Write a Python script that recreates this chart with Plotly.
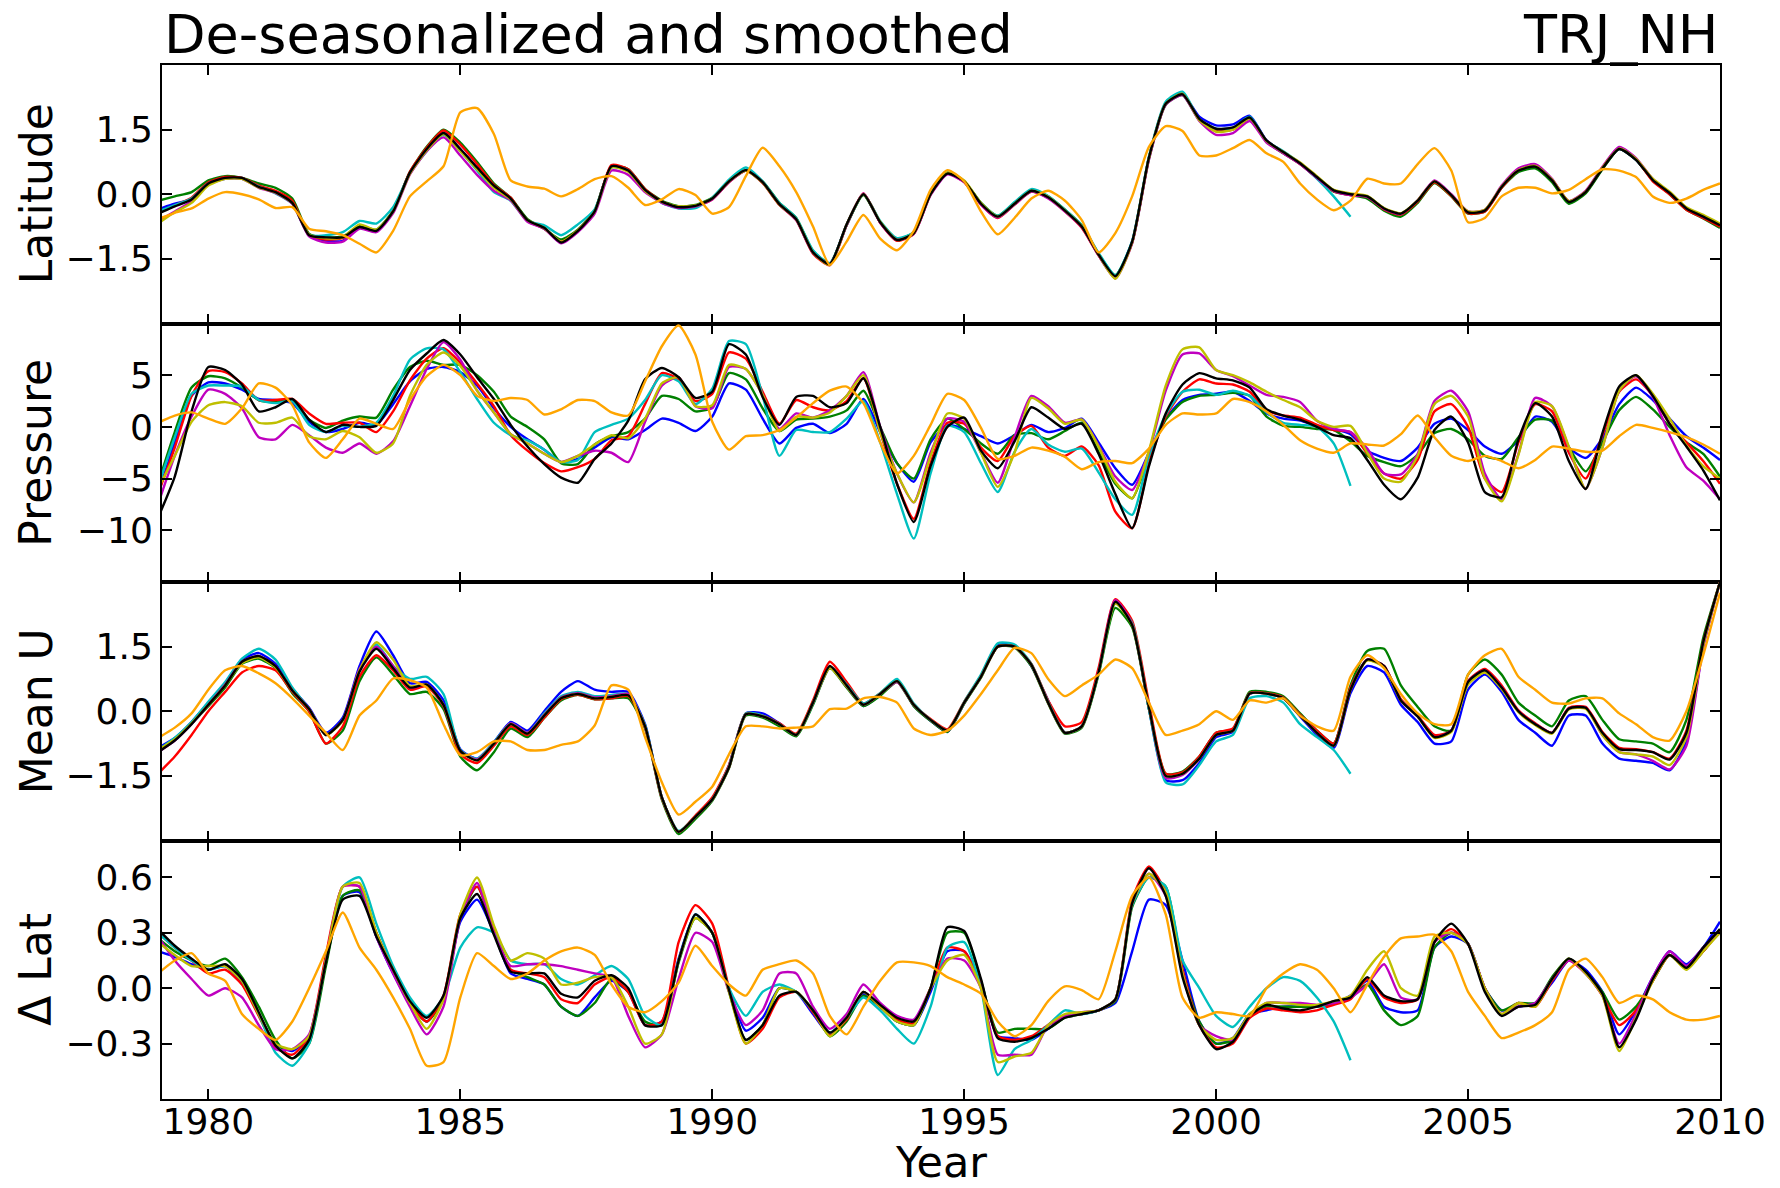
import plotly.graph_objects as go
from plotly.subplots import make_subplots

# Time axis: one sample every four months, Jan 1979 .. Jan 2010
YEARS = [round(1979 + k / 3, 4) for k in range(94)]
YEARS_CYAN = YEARS[:72]  # cyan record stops in late 2002

# ---------------- Latitude ----------------
LAT_BLUE = [
    -0.35, -0.22, -0.12, 0.25, 0.38, 0.38, 0.17, 0.05, -0.20, -0.95,
    -1.08, -1.08, -0.76, -0.85, -0.40, 0.50, 1.05, 1.42, 1.05, 0.62,
    0.20, -0.10, -0.60, -0.78, -1.12, -0.85, -0.40, 0.65, 0.55, 0.10,
    -0.17, -0.30, -0.27, -0.10, 0.30, 0.56, 0.28, -0.23, -0.58, -1.35,
    -1.62, -0.70, 0.00, -0.65, -1.06, -0.90, 0.00, 0.48, 0.30, -0.22,
    -0.52, -0.22, 0.08, -0.07, -0.38, -0.75, -1.40, -1.90, -1.10, 0.85,
    2.10, 2.32, 1.80, 1.60, 1.62, 1.82, 1.25, 0.98, 0.72, 0.40,
    0.09, 0.00, -0.05, -0.33, -0.45, -0.15, 0.30, -0.02, -0.42, -0.38,
    0.17, 0.55, 0.64, 0.32, -0.18, 0.05, 0.60, 1.05, 0.80, 0.33,
    0.03, -0.33, -0.52, -0.72]
LAT_GREEN = [
    -0.15, -0.05, 0.05, 0.32, 0.42, 0.38, 0.25, 0.15, -0.10, -0.92,
    -1.00, -0.98, -0.74, -0.82, -0.38, 0.52, 1.10, 1.50, 1.20, 0.75,
    0.25, -0.08, -0.58, -0.80, -1.05, -0.82, -0.38, 0.65, 0.58, 0.12,
    -0.15, -0.28, -0.25, -0.08, 0.30, 0.55, 0.30, -0.20, -0.55, -1.32,
    -1.60, -0.72, -0.02, -0.65, -1.04, -0.88, 0.02, 0.50, 0.30, -0.20,
    -0.50, -0.20, 0.10, -0.05, -0.36, -0.72, -1.38, -1.88, -1.12, 0.82,
    2.08, 2.30, 1.72, 1.50, 1.52, 1.75, 1.22, 0.95, 0.70, 0.38,
    0.06, -0.02, -0.10, -0.38, -0.52, -0.20, 0.26, -0.05, -0.45, -0.40,
    0.15, 0.52, 0.60, 0.28, -0.22, 0.02, 0.58, 1.05, 0.80, 0.32,
    0.00, -0.36, -0.56, -0.78]
LAT_RED = [
    -0.42, -0.26, -0.08, 0.28, 0.40, 0.38, 0.20, 0.08, -0.15, -0.95,
    -1.05, -1.02, -0.78, -0.86, -0.40, 0.52, 1.08, 1.48, 1.15, 0.70,
    0.22, -0.08, -0.62, -0.80, -1.10, -0.84, -0.40, 0.68, 0.58, 0.12,
    -0.17, -0.30, -0.28, -0.12, 0.28, 0.55, 0.26, -0.25, -0.60, -1.38,
    -1.65, -0.72, 0.02, -0.66, -1.08, -0.92, 0.00, 0.48, 0.28, -0.24,
    -0.55, -0.24, 0.06, -0.08, -0.40, -0.78, -1.42, -1.92, -1.12, 0.85,
    2.12, 2.34, 1.74, 1.48, 1.50, 1.76, 1.24, 0.96, 0.70, 0.38,
    0.07, -0.02, -0.06, -0.35, -0.47, -0.17, 0.28, -0.04, -0.44, -0.40,
    0.15, 0.56, 0.66, 0.34, -0.16, 0.06, 0.62, 1.08, 0.82, 0.30,
    0.00, -0.36, -0.55, -0.75]
LAT_CYAN = [
    -0.40, -0.25, -0.10, 0.25, 0.36, 0.36, 0.18, 0.02, -0.22, -0.95,
    -0.95, -0.88, -0.62, -0.68, -0.30, 0.48, 1.00, 1.38, 1.00, 0.55,
    0.05, -0.15, -0.62, -0.72, -0.95, -0.70, -0.35, 0.62, 0.55, 0.08,
    -0.20, -0.33, -0.32, -0.08, 0.34, 0.62, 0.30, -0.20, -0.55, -1.30,
    -1.60, -0.72, 0.00, -0.62, -1.02, -0.88, 0.02, 0.50, 0.30, -0.20,
    -0.50, -0.18, 0.12, -0.04, -0.36, -0.72, -1.36, -1.88, -1.08, 0.88,
    2.15, 2.38, 1.74, 1.52, 1.54, 1.80, 1.24, 1.00, 0.72, 0.36,
    -0.05, -0.52]
LAT_MAGENTA = [
    -0.62, -0.40, -0.16, 0.22, 0.36, 0.36, 0.15, 0.03, -0.22, -0.98,
    -1.12, -1.10, -0.80, -0.88, -0.44, 0.46, 1.00, 1.32, 0.90, 0.45,
    0.08, -0.14, -0.64, -0.80, -1.14, -0.88, -0.45, 0.55, 0.45, 0.05,
    -0.20, -0.32, -0.28, -0.12, 0.28, 0.55, 0.27, -0.24, -0.60, -1.36,
    -1.62, -0.72, 0.02, -0.66, -1.06, -0.92, -0.02, 0.46, 0.28, -0.24,
    -0.54, -0.24, 0.06, -0.10, -0.40, -0.76, -1.42, -1.95, -1.14, 0.80,
    2.08, 2.30, 1.70, 1.38, 1.42, 1.70, 1.20, 0.95, 0.70, 0.38,
    0.08, -0.02, -0.06, -0.34, -0.46, -0.14, 0.32, 0.00, -0.40, -0.36,
    0.20, 0.60, 0.70, 0.36, -0.16, 0.08, 0.64, 1.10, 0.84, 0.35,
    0.04, -0.32, -0.52, -0.70]
LAT_YELLOW = [
    -0.68, -0.42, -0.20, 0.20, 0.36, 0.36, 0.16, 0.04, -0.20, -0.94,
    -1.02, -1.00, -0.70, -0.82, -0.40, 0.48, 1.02, 1.40, 1.00, 0.58,
    0.15, -0.12, -0.60, -0.78, -1.10, -0.84, -0.40, 0.62, 0.52, 0.08,
    -0.18, -0.28, -0.26, -0.10, 0.30, 0.55, 0.27, -0.24, -0.58, -1.35,
    -1.64, -0.70, 0.00, -0.64, -1.06, -0.90, 0.00, 0.50, 0.32, -0.20,
    -0.52, -0.22, 0.08, -0.06, -0.38, -0.74, -1.40, -1.96, -1.12, 0.84,
    2.10, 2.33, 1.72, 1.45, 1.50, 1.76, 1.24, 0.98, 0.74, 0.42,
    0.10, 0.02, -0.04, -0.32, -0.44, -0.14, 0.30, -0.02, -0.40, -0.36,
    0.18, 0.56, 0.66, 0.34, -0.16, 0.06, 0.62, 1.06, 0.82, 0.36,
    0.06, -0.30, -0.48, -0.68]
LAT_BLACK = [
    -0.45, -0.28, -0.12, 0.25, 0.38, 0.38, 0.17, 0.05, -0.20, -0.95,
    -1.00, -1.00, -0.76, -0.85, -0.40, 0.50, 1.05, 1.42, 1.05, 0.62,
    0.20, -0.10, -0.60, -0.78, -1.12, -0.85, -0.40, 0.65, 0.55, 0.10,
    -0.17, -0.30, -0.27, -0.10, 0.30, 0.56, 0.28, -0.23, -0.58, -1.35,
    -1.62, -0.70, 0.00, -0.65, -1.06, -0.90, 0.00, 0.48, 0.30, -0.22,
    -0.52, -0.22, 0.08, -0.07, -0.38, -0.75, -1.40, -1.90, -1.10, 0.85,
    2.10, 2.32, 1.75, 1.52, 1.55, 1.78, 1.25, 0.98, 0.72, 0.40,
    0.09, 0.00, -0.05, -0.33, -0.45, -0.15, 0.30, -0.02, -0.42, -0.38,
    0.17, 0.55, 0.64, 0.32, -0.18, 0.05, 0.60, 1.05, 0.80, 0.33,
    0.03, -0.33, -0.52, -0.72]
LAT_ORANGE = [
    -0.58, -0.43, -0.33, -0.10, 0.05, 0.00, -0.12, -0.32, -0.30, -0.80,
    -0.86, -0.95, -1.15, -1.35, -0.85, -0.05, 0.30, 0.65, 1.90, 2.00,
    1.40, 0.32, 0.18, 0.13, -0.05, 0.12, 0.35, 0.42, 0.15, -0.25,
    -0.12, 0.12, -0.02, -0.45, -0.30, 0.42, 1.08, 0.65, 0.05, -0.75,
    -1.64, -1.10, -0.48, -1.03, -1.30, -0.85, 0.10, 0.56, 0.30, -0.40,
    -0.93, -0.55, -0.10, 0.08, -0.15, -0.60, -1.35, -0.90, -0.05, 1.10,
    1.58, 1.47, 0.90, 0.90, 1.07, 1.26, 0.95, 0.75, 0.25, -0.12,
    -0.37, -0.15, 0.36, 0.25, 0.25, 0.70, 1.07, 0.55, -0.65, -0.55,
    -0.05, 0.15, 0.15, 0.02, 0.10, 0.35, 0.58, 0.55, 0.40, -0.05,
    -0.20, -0.10, 0.10, 0.25]

# ---------------- Pressure ----------------
PRES_BLUE = [
    -6.5, -1.5, 3.0, 4.3, 4.2, 3.6, 2.7, 2.6, 2.3, 0.5,
    -0.5, -0.2, 0.4, 0.2, 2.2, 4.4, 5.6, 5.8, 5.3, 4.0,
    1.8, 0.0, -1.2, -2.2, -3.4, -3.1, -2.0, -1.0, -1.2, -0.3,
    0.8, 0.4, -0.4, 1.0, 4.2, 3.6, 0.8, -1.6, -0.1, 0.3,
    -0.6, 0.3, 2.7, -0.5, -3.5, -5.3, -1.5, 0.2, -0.2, -0.9,
    -1.6, -0.8, 0.2, -0.5, -0.1, 0.8, -1.5, -4.0, -5.6, -2.5,
    0.8, 2.6, 3.1, 3.2, 3.4, 2.5, 1.3, 0.8, 0.6, 0.1,
    -0.2, -0.7, -2.3, -3.0, -3.3, -2.0, 0.3, 0.8, -0.3, -1.9,
    -2.6, -1.3, 1.0, 0.5, -2.0, -3.0, -1.1, 2.2, 3.8, 2.6,
    0.8, -0.9, -2.0, -3.2]
PRES_GREEN = [
    -5.5, -0.5, 3.8, 4.9, 4.7, 3.8, 2.6, 2.4, 2.6, 0.7,
    -0.1, 0.6, 1.0, 0.9, 3.6, 5.8, 6.4, 6.0, 6.0, 5.0,
    3.4, 1.0, 0.0, -1.2, -3.5, -3.6, -1.7, -0.9, -0.5, 0.8,
    3.0, 2.7, 1.5, 1.9, 5.2, 4.6, 1.8, -0.4, 0.7, 0.8,
    1.0, 1.6, 3.5, 0.0, -3.5, -5.0, -1.2, 0.8, -0.2, -1.6,
    -2.6, -0.8, -0.6, -1.2, -0.4, 0.4, -2.4, -5.5, -6.9, -2.8,
    0.7, 2.4, 3.0, 3.1, 3.3, 3.0, 1.0, 0.1, 0.0, -0.2,
    -0.3, -1.4, -2.8, -3.4, -3.8, -2.7, -0.6, -0.2, -1.2, -2.8,
    -3.1, -1.0, 0.7, 0.6, -2.0, -4.3, -1.5, 1.6, 2.9, 1.7,
    0.0, -1.5, -2.6, -4.8]
PRES_RED = [
    -6.5, -2.0, 3.0, 5.4, 5.3, 4.2, 2.6, 2.6, 2.7, 1.3,
    0.3, 0.4, 0.4, -0.5, 1.5, 4.5, 6.6, 7.6, 6.2, 4.2,
    2.0, -0.8, -2.3, -3.5, -4.3, -3.9, -3.1, -1.3, -0.9, 2.2,
    5.2, 4.6, 2.5, 3.2, 7.2, 6.6, 3.4, 0.3, 2.6, 1.9,
    1.6, 2.5, 4.7, -0.5, -5.5, -8.9, -3.5, 0.4, 0.3, -2.0,
    -3.3, -0.9, 0.1, -2.0, -2.8, -1.9, -3.7, -8.2, -9.8, -3.5,
    1.0, 3.4, 4.6, 4.2, 4.1, 3.4, 1.6, 1.1, 0.9, 0.2,
    -0.3, -0.5, -2.6, -4.5, -5.0, -3.2, 1.5, 2.2, 0.0, -5.0,
    -6.3, -1.5, 2.2, 1.5, -2.5, -5.0, -0.8, 3.4, 4.6, 3.0,
    0.3, -1.5, -3.3, -5.5]
PRES_CYAN = [
    -5.8, -1.0, 3.2, 4.0, 4.0, 3.9, 2.6, 2.3, 2.5, 0.2,
    -0.5, 0.1, 0.0, 0.4, 3.0, 6.5, 7.6, 7.5, 5.3, 2.7,
    0.4, -0.8, -1.3, -2.2, -3.4, -3.2, -0.5, 0.2, 0.8, 2.6,
    5.0, 4.4, 2.2, 3.7, 8.3, 8.0, 3.0, -2.8, -0.3, -0.5,
    -0.5, 0.8, 2.5, -1.5, -6.5, -10.8, -4.5, 0.1, -0.5, -3.5,
    -6.3, -2.4, -0.2, -1.7, -2.4, -2.1, -4.4, -7.0, -8.5, -2.8,
    1.2, 3.4, 3.6, 3.1, 3.5, 3.0, 1.4, 0.4, 0.2, 0.0,
    -1.6, -5.7]
PRES_MAGENTA = [
    -7.5, -2.8, 1.0, 3.6, 3.2, 1.8, -1.0, -1.2, 0.2, -0.8,
    -2.0, -2.5, -1.6, -2.6, -1.4, 2.0, 5.6, 8.2, 6.5, 3.5,
    1.4, -0.7, -1.6, -2.6, -3.4, -2.8, -2.3, -2.5, -3.4, 0.5,
    4.0, 4.8, 2.0, 1.8, 5.8, 5.6, 3.1, -0.2, 1.3, 0.9,
    1.6, 3.0, 5.3, 0.0, -4.5, -7.3, -2.5, 0.8, 0.5, -2.5,
    -5.4, -1.0, 3.0, 2.0, 0.4, 0.7, -1.8, -4.8, -6.1, -2.4,
    3.5, 7.0, 7.1, 5.5, 4.9, 4.0, 3.1, 2.9, 2.4, 0.6,
    -0.2, -0.5, -2.1, -4.5, -4.6, -2.6, 2.5, 3.5, 1.5, -4.5,
    -7.0, -2.6, 2.8, 2.0, -2.0, -6.0, -2.0, 3.5, 4.9, 2.9,
    -0.8, -3.9, -5.2, -7.0]
PRES_YELLOW = [
    -6.0, -2.8, 0.5, 2.1, 2.4, 2.0, 0.4, 0.4, 0.9, -0.9,
    -1.2, -0.4, -1.0, -2.5, -1.6, 3.0, 6.0, 7.2, 5.9, 3.5,
    1.4, -0.7, -1.6, -2.6, -3.4, -2.8, -1.7, -0.8, -1.1, 0.8,
    4.2, 4.8, 2.0, 2.1, 6.0, 5.6, 3.1, -0.4, 1.0, 0.9,
    1.4, 3.0, 5.0, -0.5, -4.5, -7.3, -2.8, 1.3, 0.8, -2.5,
    -5.8, -2.5, 2.8, 1.8, 0.3, 0.7, -1.9, -5.3, -6.9, -2.3,
    4.0, 7.5, 7.7, 5.5, 5.0, 4.3, 3.4, 2.6, 1.9, 0.6,
    0.0, 0.1, -2.5, -5.0, -5.3, -2.8, 2.2, 3.0, 1.0, -5.0,
    -7.2, -2.7, 2.4, 2.0, -1.9, -6.0, -2.0, 3.5, 5.0, 3.2,
    0.8, -1.8, -3.8, -5.0]
PRES_BLACK = [
    -8.8, -4.8, 1.5, 5.8, 5.5, 4.1, 1.5, 1.9, 2.7, 0.7,
    -0.5, 0.2, 0.0, 0.1, 2.6, 5.5, 7.1, 8.4, 7.0, 4.8,
    2.7, 0.2, -1.9, -3.6, -4.9, -5.4, -3.1, -1.6, 0.6, 4.6,
    5.7, 4.8, 2.8, 3.4, 8.0, 7.0, 2.9, 0.2, 2.9, 3.0,
    1.9, 2.3, 4.7, 0.0, -5.5, -9.2, -3.8, 0.0, 0.9, -2.3,
    -4.0, -1.4, 1.9, 0.9, -0.2, 0.3, -2.6, -6.5, -9.8, -3.8,
    1.3, 4.1, 5.2, 4.7, 4.5, 3.8, 1.7, 1.1, 0.7, 0.0,
    -0.8, -1.1, -3.2, -5.6, -7.0, -4.9, -0.3, 1.0, -1.5, -6.3,
    -6.8, -1.2, 2.3, 1.0, -3.3, -6.0, -0.6, 3.9, 5.0, 3.0,
    0.3, -1.9, -4.2, -7.1]
PRES_ORANGE = [
    0.4, 1.1, 1.4, 0.8, 0.3, 1.8, 4.2, 3.8, 2.1, -1.5,
    -3.0, -1.2, 0.8, 0.3, -0.2, 2.6, 4.9, 6.0, 5.0, 3.0,
    2.5, 2.8, 2.6, 1.2, 1.7, 2.6, 2.5, 1.4, 1.1, 4.4,
    7.8, 9.8, 7.0, 0.5, -2.2, -0.9, -0.8, -0.3, 0.9, 2.3,
    3.5, 3.9, 2.3, -1.5, -4.5, -2.8, 0.2, 3.2, 2.6, -0.1,
    -3.1, -2.8, -2.0, -2.3, -2.9, -4.1, -3.4, -3.3, -3.5, -2.1,
    0.2, 1.3, 1.2, 1.3, 2.7, 2.4, 1.5, 0.2, -1.3, -2.1,
    -2.5, -1.6, -1.7, -1.8, -0.7, 1.1, -1.0, -2.8, -3.3, -2.8,
    -3.3, -4.0, -3.2, -1.9, -2.1, -2.4, -2.3, -0.9, 0.2, -0.1,
    -0.5, -1.0, -1.7, -2.6]

# ---------------- Mean U ----------------
MEANU_BLUE = [
    -0.85, -0.62, -0.25, 0.20, 0.65, 1.20, 1.35, 1.10, 0.52, 0.08,
    -0.50, -0.15, 1.05, 1.85, 1.30, 0.65, 0.68, 0.25, -0.88, -1.10,
    -0.72, -0.25, -0.45, 0.00, 0.45, 0.70, 0.50, 0.45, 0.45, -0.30,
    -2.00, -2.82, -2.48, -2.05, -1.25, -0.05, -0.05, -0.28, -0.55, 0.18,
    1.00, 0.60, 0.12, 0.38, 0.72, 0.12, -0.22, -0.48, 0.18, 0.82,
    1.55, 1.52, 1.05, 0.25, -0.50, -0.35, 0.90, 2.55, 2.02, 0.05,
    -1.60, -1.60, -1.20, -0.60, -0.48, 0.40, 0.42, 0.30, -0.12, -0.55,
    -0.85, 0.42, 1.05, 0.90, 0.15, -0.25, -0.75, -0.70, 0.50, 0.85,
    0.45, -0.20, -0.50, -0.80, -0.10, -0.10, -0.75, -1.10, -1.15, -1.20,
    -1.37, -0.70, 1.50, 3.00]
MEANU_GREEN = [
    -0.90, -0.65, -0.28, 0.12, 0.55, 1.10, 1.22, 1.00, 0.42, 0.00,
    -0.75, -0.45, 0.70, 1.25, 0.85, 0.40, 0.45, 0.05, -1.05, -1.37,
    -0.95, -0.40, -0.60, -0.15, 0.25, 0.38, 0.28, 0.30, 0.30, -0.40,
    -2.05, -2.85, -2.50, -2.08, -1.32, -0.10, -0.15, -0.35, -0.58, 0.15,
    1.00, 0.55, 0.12, 0.36, 0.68, 0.12, -0.22, -0.48, 0.18, 0.78,
    1.50, 1.48, 1.05, 0.18, -0.52, -0.38, 0.85, 2.40, 1.95, 0.05,
    -1.45, -1.40, -1.05, -0.50, -0.42, 0.45, 0.45, 0.35, -0.05, -0.45,
    -0.75, 0.60, 1.40, 1.45, 0.60, 0.10, -0.35, -0.45, 0.85, 1.20,
    0.85, 0.20, -0.10, -0.35, 0.25, 0.35, -0.20, -0.65, -0.70, -0.75,
    -0.95, -0.20, 1.70, 3.00]
MEANU_RED = [
    -1.45, -1.05, -0.55, 0.00, 0.45, 0.90, 1.05, 0.95, 0.45, 0.00,
    -0.75, -0.35, 0.80, 1.30, 0.95, 0.50, 0.58, 0.12, -1.00, -1.20,
    -0.80, -0.35, -0.55, -0.15, 0.28, 0.38, 0.28, 0.30, 0.35, -0.38,
    -2.02, -2.80, -2.42, -2.00, -1.25, -0.05, -0.10, -0.28, -0.52, 0.25,
    1.15, 0.68, 0.18, 0.42, 0.70, 0.15, -0.18, -0.42, 0.22, 0.82,
    1.50, 1.50, 1.10, 0.25, -0.35, -0.25, 1.00, 2.60, 2.10, 0.20,
    -1.45, -1.42, -1.05, -0.50, -0.40, 0.42, 0.42, 0.32, -0.08, -0.45,
    -0.75, 0.55, 1.20, 1.05, 0.28, -0.10, -0.55, -0.45, 0.70, 0.98,
    0.60, 0.02, -0.28, -0.50, 0.08, 0.10, -0.48, -0.85, -0.88, -0.95,
    -1.10, -0.45, 1.60, 3.00]
MEANU_CYAN = [
    -0.90, -0.62, -0.25, 0.22, 0.68, 1.22, 1.45, 1.20, 0.55, 0.05,
    -0.55, -0.20, 0.95, 1.55, 1.05, 0.75, 0.80, 0.40, -0.90, -1.10,
    -0.72, -0.28, -0.50, -0.05, 0.35, 0.45, 0.35, 0.38, 0.40, -0.32,
    -2.00, -2.78, -2.45, -2.05, -1.28, -0.05, -0.10, -0.30, -0.55, 0.18,
    1.02, 0.62, 0.18, 0.42, 0.75, 0.18, -0.20, -0.45, 0.22, 0.85,
    1.58, 1.55, 1.10, 0.22, -0.50, -0.35, 0.88, 2.50, 2.05, 0.05,
    -1.65, -1.70, -1.25, -0.70, -0.55, 0.30, 0.35, 0.20, -0.30, -0.60,
    -0.90, -1.45]
MEANU_MAGENTA = [
    -0.95, -0.68, -0.30, 0.15, 0.62, 1.15, 1.28, 1.05, 0.48, 0.05,
    -0.55, -0.20, 0.98, 1.50, 1.05, 0.55, 0.62, 0.15, -0.92, -1.12,
    -0.75, -0.28, -0.50, -0.08, 0.32, 0.42, 0.32, 0.35, 0.40, -0.35,
    -2.00, -2.80, -2.45, -2.05, -1.30, -0.07, -0.12, -0.30, -0.55, 0.20,
    1.02, 0.58, 0.15, 0.40, 0.68, 0.15, -0.20, -0.45, 0.20, 0.80,
    1.50, 1.50, 1.08, 0.20, -0.50, -0.35, 0.92, 2.58, 2.02, 0.10,
    -1.55, -1.48, -1.10, -0.55, -0.45, 0.41, 0.41, 0.30, -0.10, -0.50,
    -0.80, 0.50, 1.20, 1.05, 0.25, -0.12, -0.60, -0.45, 0.68, 0.95,
    0.55, 0.00, -0.30, -0.50, 0.06, 0.08, -0.55, -0.95, -1.00, -1.15,
    -1.35, -0.80, 1.50, 3.00]
MEANU_YELLOW = [
    -0.90, -0.65, -0.28, 0.15, 0.60, 1.12, 1.25, 1.02, 0.48, 0.05,
    -0.55, -0.22, 0.95, 1.60, 1.20, 0.58, 0.62, 0.15, -0.92, -1.14,
    -0.75, -0.30, -0.52, -0.10, 0.30, 0.40, 0.30, 0.33, 0.37, -0.35,
    -2.00, -2.80, -2.45, -2.05, -1.30, -0.07, -0.12, -0.30, -0.55, 0.20,
    1.00, 0.58, 0.15, 0.40, 0.70, 0.15, -0.20, -0.45, 0.20, 0.80,
    1.50, 1.50, 1.08, 0.20, -0.50, -0.35, 0.90, 2.50, 2.00, 0.10,
    -1.50, -1.45, -1.10, -0.55, -0.45, 0.41, 0.41, 0.30, -0.10, -0.50,
    -0.80, 0.50, 1.18, 1.02, 0.25, -0.12, -0.62, -0.48, 0.62, 0.90,
    0.52, -0.02, -0.32, -0.52, 0.04, 0.06, -0.55, -0.95, -1.00, -1.05,
    -1.25, -0.60, 1.55, 3.00]
MEANU_BLACK = [
    -0.95, -0.68, -0.30, 0.15, 0.60, 1.15, 1.28, 1.05, 0.48, 0.05,
    -0.55, -0.20, 0.92, 1.45, 1.00, 0.55, 0.62, 0.15, -0.92, -1.14,
    -0.75, -0.30, -0.52, -0.10, 0.30, 0.40, 0.30, 0.33, 0.37, -0.35,
    -2.00, -2.80, -2.45, -2.05, -1.30, -0.07, -0.12, -0.30, -0.55, 0.20,
    1.05, 0.60, 0.15, 0.40, 0.70, 0.15, -0.20, -0.45, 0.20, 0.80,
    1.50, 1.50, 1.08, 0.20, -0.50, -0.35, 0.90, 2.54, 2.00, 0.10,
    -1.50, -1.45, -1.10, -0.55, -0.45, 0.41, 0.41, 0.30, -0.10, -0.50,
    -0.80, 0.50, 1.20, 1.05, 0.25, -0.12, -0.60, -0.45, 0.68, 0.95,
    0.55, 0.00, -0.30, -0.50, 0.06, 0.08, -0.50, -0.88, -0.90, -0.95,
    -1.12, -0.50, 1.60, 3.00]
MEANU_ORANGE = [
    -0.62, -0.38, -0.05, 0.50, 0.95, 1.05, 0.88, 0.65, 0.30, -0.10,
    -0.50, -0.90, -0.10, 0.25, 0.76, 0.72, 0.55, -0.30, -1.02, -0.95,
    -0.70, -0.70, -0.90, -0.90, -0.78, -0.70, -0.33, 0.60, 0.50, -0.60,
    -1.65, -2.40, -2.10, -1.75, -1.00, -0.35, -0.35, -0.40, -0.38, -0.35,
    0.05, 0.06, 0.30, 0.33, 0.20, -0.40, -0.55, -0.45, -0.10, 0.40,
    0.95, 1.47, 1.35, 0.75, 0.35, 0.60, 0.85, 1.20, 1.00, 0.20,
    -0.55, -0.45, -0.30, 0.00, -0.20, 0.25, 0.20, 0.30, -0.10, -0.35,
    -0.45, 0.80, 1.30, 1.00, 0.40, -0.05, -0.30, -0.30, 0.85, 1.30,
    1.45, 0.80, 0.50, 0.20, 0.18, 0.30, 0.30, -0.05, -0.30, -0.60,
    -0.68, 0.00, 1.30, 2.75]

# ---------------- Delta latitude ----------------
DLAT_BLUE = [
    0.20, 0.17, 0.13, 0.10, 0.12, 0.03, -0.14, -0.30, -0.34, -0.26,
    0.14, 0.50, 0.52, 0.28, 0.08, -0.08, -0.18, -0.05, 0.36, 0.48,
    0.30, 0.08, 0.05, 0.02, -0.10, -0.15, -0.05, 0.04, -0.02, -0.20,
    -0.18, 0.16, 0.40, 0.30, 0.00, -0.23, -0.16, 0.00, -0.02, -0.14,
    -0.25, -0.16, -0.03, -0.10, -0.18, -0.20, -0.02, 0.20, 0.20, 0.02,
    -0.26, -0.27, -0.28, -0.22, -0.15, -0.14, -0.12, -0.08, 0.20, 0.48,
    0.45, 0.15, -0.18, -0.30, -0.27, -0.14, -0.12, -0.10, -0.10, -0.10,
    -0.08, -0.04, 0.04, -0.10, -0.13, -0.12, 0.22, 0.28, 0.24, 0.00,
    -0.12, -0.10, -0.08, 0.03, 0.15, 0.10, -0.02, -0.25, -0.12, 0.06,
    0.20, 0.13, 0.22, 0.36]
DLAT_GREEN = [
    0.27, 0.20, 0.15, 0.12, 0.16, 0.06, -0.10, -0.28, -0.38, -0.30,
    0.12, 0.50, 0.53, 0.30, 0.10, -0.08, -0.18, -0.06, 0.38, 0.55,
    0.32, 0.10, 0.06, 0.02, -0.10, -0.15, -0.08, 0.05, -0.02, -0.18,
    -0.20, 0.14, 0.38, 0.30, -0.02, -0.28, -0.20, 0.00, -0.02, -0.12,
    -0.26, -0.18, -0.04, -0.10, -0.18, -0.20, 0.00, 0.30, 0.30, 0.04,
    -0.24, -0.22, -0.22, -0.22, -0.16, -0.14, -0.12, -0.07, 0.44, 0.60,
    0.55, 0.10, -0.18, -0.30, -0.28, -0.14, -0.10, -0.10, -0.10, -0.10,
    -0.08, -0.05, 0.02, -0.12, -0.20, -0.15, 0.22, 0.30, 0.24, 0.00,
    -0.12, -0.08, -0.08, 0.06, 0.16, 0.08, -0.02, -0.17, -0.10, 0.04,
    0.18, 0.11, 0.20, 0.32]
DLAT_RED = [
    0.30, 0.22, 0.15, 0.08, 0.10, 0.02, -0.15, -0.32, -0.36, -0.26,
    0.18, 0.55, 0.55, 0.30, 0.10, -0.08, -0.18, -0.04, 0.40, 0.55,
    0.32, 0.10, 0.08, 0.06, -0.06, -0.08, 0.02, 0.06, -0.02, -0.20,
    -0.18, 0.25, 0.45, 0.35, 0.00, -0.30, -0.22, -0.05, -0.02, -0.13,
    -0.25, -0.17, -0.02, -0.10, -0.17, -0.19, 0.00, 0.22, 0.20, 0.02,
    -0.26, -0.28, -0.26, -0.20, -0.15, -0.14, -0.12, -0.06, 0.48, 0.66,
    0.52, 0.10, -0.20, -0.32, -0.30, -0.16, -0.11, -0.12, -0.13, -0.12,
    -0.09, -0.06, 0.05, -0.05, -0.08, -0.06, 0.25, 0.32, 0.24, 0.00,
    -0.14, -0.08, -0.10, 0.04, 0.15, 0.08, -0.04, -0.20, -0.12, 0.04,
    0.18, 0.11, 0.20, 0.31]
DLAT_CYAN = [
    0.30, 0.22, 0.15, 0.10, 0.12, 0.04, -0.14, -0.35, -0.42, -0.30,
    0.15, 0.55, 0.60, 0.35, 0.12, -0.05, -0.15, -0.05, 0.22, 0.33,
    0.30, 0.15, 0.13, 0.13, 0.05, 0.02, 0.07, 0.12, 0.05, -0.15,
    -0.20, 0.15, 0.40, 0.30, 0.00, -0.15, -0.02, 0.02, -0.02, -0.12,
    -0.24, -0.16, -0.05, -0.12, -0.22, -0.30, -0.10, 0.22, 0.25, 0.00,
    -0.47, -0.33, -0.28, -0.20, -0.12, -0.14, -0.12, -0.06, 0.45, 0.60,
    0.55, 0.15, 0.00, -0.15, -0.21, -0.10, 0.00, 0.06, 0.04, -0.05,
    -0.18, -0.39]
DLAT_MAGENTA = [
    0.28, 0.15, 0.05, -0.04, 0.00, -0.05, -0.20, -0.33, -0.33, -0.25,
    0.15, 0.55, 0.55, 0.28, 0.08, -0.10, -0.25, -0.10, 0.38, 0.57,
    0.30, 0.12, 0.13, 0.13, 0.12, 0.10, 0.08, 0.06, -0.15, -0.32,
    -0.25, 0.05, 0.30, 0.25, -0.02, -0.20, -0.12, 0.08, 0.08, -0.10,
    -0.22, -0.14, 0.02, -0.08, -0.15, -0.17, 0.00, 0.16, 0.15, 0.00,
    -0.36, -0.36, -0.36, -0.20, -0.15, -0.13, -0.12, -0.06, 0.46, 0.62,
    0.50, 0.08, -0.20, -0.26, -0.28, -0.15, -0.08, -0.08, -0.08, -0.09,
    -0.08, -0.05, 0.02, 0.13, -0.05, -0.06, 0.25, 0.30, 0.24, 0.00,
    -0.14, -0.10, -0.08, 0.05, 0.15, 0.08, -0.04, -0.30, -0.14, 0.06,
    0.20, 0.12, 0.22, 0.30]
DLAT_YELLOW = [
    0.25, 0.18, 0.12, 0.12, 0.12, 0.04, -0.14, -0.30, -0.33, -0.26,
    0.15, 0.55, 0.57, 0.30, 0.10, -0.08, -0.22, -0.06, 0.40, 0.60,
    0.34, 0.15, 0.19, 0.16, 0.02, 0.03, 0.06, 0.06, -0.10, -0.30,
    -0.25, 0.15, 0.38, 0.30, -0.02, -0.30, -0.20, 0.00, -0.02, -0.12,
    -0.26, -0.16, -0.02, -0.10, -0.18, -0.20, 0.00, 0.15, 0.18, 0.00,
    -0.40, -0.37, -0.35, -0.20, -0.14, -0.13, -0.12, -0.06, 0.46, 0.62,
    0.52, 0.08, -0.20, -0.28, -0.27, -0.14, -0.08, -0.08, -0.09, -0.09,
    -0.07, -0.04, 0.10, 0.20, 0.00, -0.04, 0.28, 0.30, 0.24, 0.00,
    -0.14, -0.08, -0.10, 0.05, 0.16, 0.08, -0.04, -0.34, -0.16, 0.04,
    0.18, 0.10, 0.20, 0.30]
DLAT_BLACK = [
    0.32, 0.23, 0.16, 0.10, 0.13, 0.05, -0.13, -0.31, -0.38, -0.28,
    0.14, 0.48, 0.50, 0.28, 0.10, -0.07, -0.16, -0.04, 0.38, 0.51,
    0.29, 0.09, 0.08, 0.08, -0.03, -0.05, 0.04, 0.07, 0.00, -0.20,
    -0.20, 0.15, 0.40, 0.30, -0.01, -0.28, -0.20, -0.04, -0.02, -0.12,
    -0.24, -0.16, -0.02, -0.09, -0.16, -0.18, 0.00, 0.33, 0.31, 0.05,
    -0.27, -0.29, -0.27, -0.22, -0.16, -0.14, -0.12, -0.06, 0.46, 0.65,
    0.50, 0.06, -0.20, -0.33, -0.29, -0.15, -0.09, -0.11, -0.12, -0.10,
    -0.07, -0.05, 0.06, -0.04, -0.07, -0.06, 0.25, 0.35, 0.24, -0.02,
    -0.15, -0.10, -0.09, 0.05, 0.16, 0.09, -0.03, -0.32, -0.17, 0.05,
    0.18, 0.11, 0.22, 0.32]
DLAT_ORANGE = [
    0.08, 0.15, 0.19, 0.08, 0.04, -0.14, -0.22, -0.28, -0.18, 0.00,
    0.20, 0.41, 0.22, 0.10, -0.05, -0.22, -0.42, -0.40, -0.05, 0.19,
    0.12, 0.05, 0.08, 0.15, 0.20, 0.22, 0.18, 0.02, -0.10, -0.13,
    -0.07, 0.03, 0.23, 0.12, 0.02, -0.04, 0.10, 0.13, 0.15, 0.08,
    -0.15, -0.25, -0.10, 0.04, 0.14, 0.14, 0.12, 0.06, 0.02, -0.03,
    -0.18, -0.26, -0.20, -0.07, 0.01, -0.01, -0.06, 0.20, 0.50, 0.60,
    0.40, -0.05, -0.16, -0.13, -0.14, -0.15, 0.00, 0.08, 0.13, 0.10,
    0.00, -0.13, 0.02, 0.17, 0.27, 0.28, 0.29, 0.20, -0.02, -0.15,
    -0.27, -0.24, -0.20, -0.13, 0.10, 0.16, 0.06, -0.08, -0.04, -0.06,
    -0.13, -0.17, -0.17, -0.15]

# Line colours (classic matplotlib cycle plus orange), drawn in this order
COLORS = {
    "blue": "#0000ff", "green": "#008000", "red": "#ff0000",
    "cyan": "#00bfbf", "magenta": "#bf00bf", "yellow": "#bfbf00",
    "black": "#000000", "orange": "#ffa500",
}

PANELS = [
    {"label": "Latitude", "range": [-3, 3], "ticks": [-1.5, 0, 1.5],
     "ticktext": ["\u22121.5", "0.0", "1.5"],
     "series": {"blue": LAT_BLUE, "green": LAT_GREEN, "red": LAT_RED,
                "cyan": LAT_CYAN, "magenta": LAT_MAGENTA,
                "yellow": LAT_YELLOW, "black": LAT_BLACK,
                "orange": LAT_ORANGE}},
    {"label": "Pressure", "range": [-15, 10], "ticks": [-10, -5, 0, 5],
     "ticktext": ["\u221210", "\u22125", "0", "5"],
     "series": {"blue": PRES_BLUE, "green": PRES_GREEN, "red": PRES_RED,
                "cyan": PRES_CYAN, "magenta": PRES_MAGENTA,
                "yellow": PRES_YELLOW, "black": PRES_BLACK,
                "orange": PRES_ORANGE}},
    {"label": "Mean U", "range": [-3, 3], "ticks": [-1.5, 0, 1.5],
     "ticktext": ["\u22121.5", "0.0", "1.5"],
     "series": {"blue": MEANU_BLUE, "green": MEANU_GREEN, "red": MEANU_RED,
                "cyan": MEANU_CYAN, "magenta": MEANU_MAGENTA,
                "yellow": MEANU_YELLOW, "black": MEANU_BLACK,
                "orange": MEANU_ORANGE}},
    {"label": "\u0394 Lat", "range": [-0.6, 0.8], "ticks": [-0.3, 0.0, 0.3, 0.6],
     "ticktext": ["\u22120.3", "0.0", "0.3", "0.6"],
     "series": {"blue": DLAT_BLUE, "green": DLAT_GREEN, "red": DLAT_RED,
                "cyan": DLAT_CYAN, "magenta": DLAT_MAGENTA,
                "yellow": DLAT_YELLOW, "black": DLAT_BLACK,
                "orange": DLAT_ORANGE}},
]

XTICKS = [1980, 1985, 1990, 1995, 2000, 2005, 2010]

FONT = "DejaVu Sans"
W, H = 1780, 1188
M_L, M_R, M_T, M_B = 162, 60, 65, 89

fig = make_subplots(rows=4, cols=1, shared_xaxes=True, vertical_spacing=0)

for row, panel in enumerate(PANELS, start=1):
    for name, values in panel["series"].items():
        xs = YEARS_CYAN if name == "cyan" else YEARS
        fig.add_trace(
            go.Scatter(x=xs, y=values, mode="lines",
                       line=dict(color=COLORS[name], width=2.4,
                                 shape="spline", smoothing=0.6),
                       hoverinfo="skip", showlegend=False),
            row=row, col=1)
    fig.update_yaxes(
        range=panel["range"], tickvals=panel["ticks"],
        ticktext=panel["ticktext"], ticks="inside", ticklen=10,
        tickwidth=1.5, tickcolor="black", showline=True, linewidth=2,
        linecolor="black", mirror="allticks", showgrid=False,
        zeroline=False, tickfont=dict(family=FONT, size=36, color="black"),
        row=row, col=1)
    fig.update_xaxes(
        range=[1979.08, 2010], tickvals=XTICKS,
        ticktext=[str(v) for v in XTICKS], ticks="inside", ticklen=10,
        tickwidth=1.5, tickcolor="black", showline=True, linewidth=2,
        linecolor="black", mirror="allticks", showgrid=False,
        zeroline=False, showticklabels=(row == 4),
        ticklabelstandoff=-10,
        tickfont=dict(family=FONT, size=36, color="black"),
        row=row, col=1)

plot_w = W - M_L - M_R
plot_h = H - M_T - M_B
centers = [0.875, 0.625, 0.375, 0.125]

annotations = []
for panel, yc in zip(PANELS, centers):
    annotations.append(dict(
        text=panel["label"], x=(36 - M_L) / plot_w, y=yc,
        xref="paper", yref="paper", xanchor="center", yanchor="middle",
        textangle=-90, showarrow=False,
        font=dict(family=FONT, size=44, color="black")))

annotations += [
    dict(text="De-seasonalized and smoothed", x=0, y=1 - 3 / plot_h,
         xref="paper", yref="paper", xanchor="left", yanchor="bottom",
         showarrow=False, font=dict(family=FONT, size=54, color="black")),
    dict(text="TRJ_NH", x=1, y=1 - 3 / plot_h,
         xref="paper", yref="paper", xanchor="right", yanchor="bottom",
         showarrow=False, font=dict(family=FONT, size=54, color="black")),
    dict(text="Year", x=0.5, y=-(1162 - (H - M_B)) / plot_h,
         xref="paper", yref="paper", xanchor="center", yanchor="middle",
         showarrow=False, font=dict(family=FONT, size=43, color="black")),
]

fig.update_layout(
    width=W, height=H,
    margin=dict(l=M_L, r=M_R, t=M_T, b=M_B, pad=0),
    plot_bgcolor="white", paper_bgcolor="white",
    showlegend=False, annotations=annotations,
    font=dict(family=FONT, color="black"),
)

fig.write_html("out.html")
